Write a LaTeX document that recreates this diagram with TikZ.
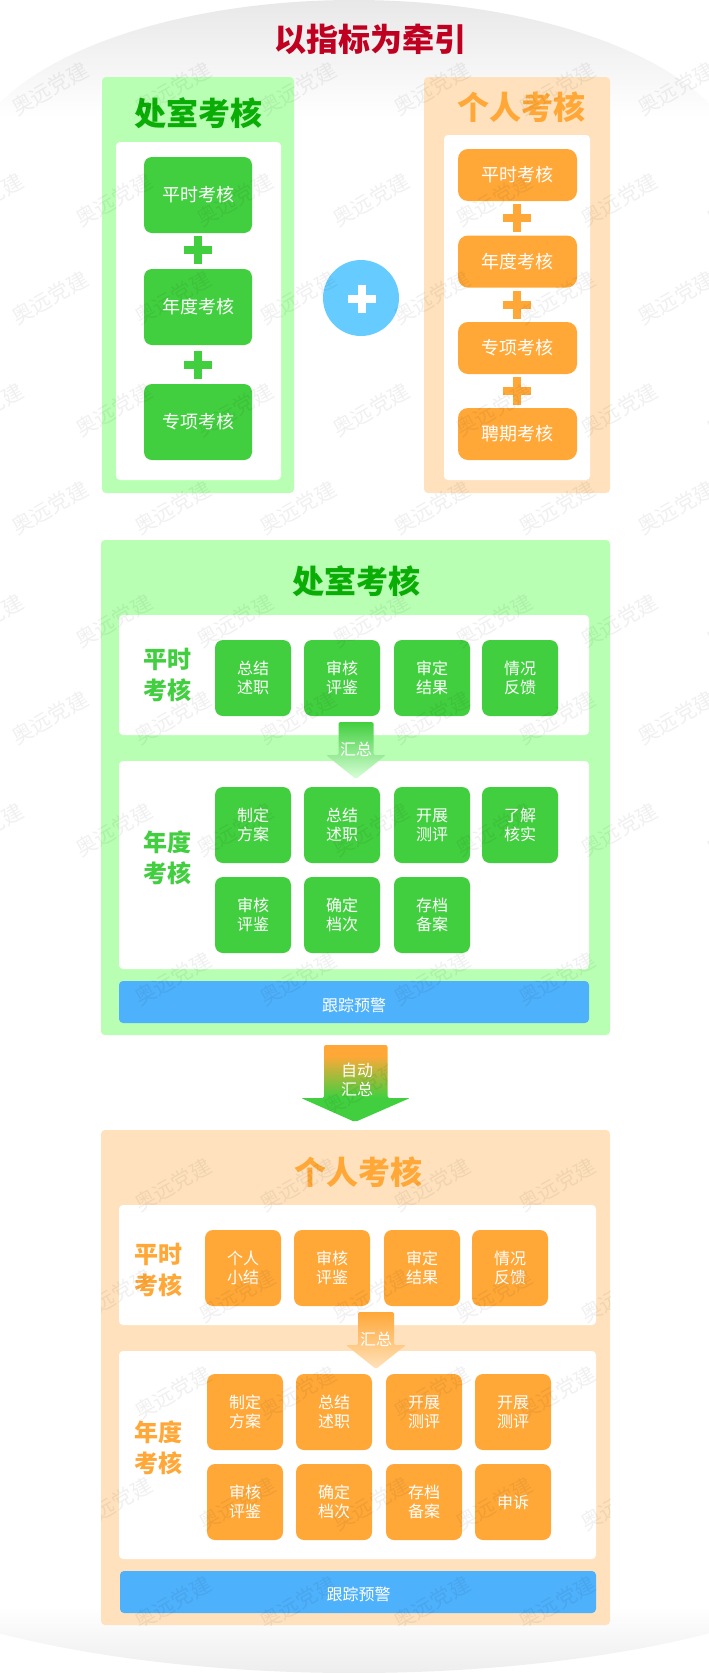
\documentclass[tikz,border=0pt]{standalone}
\usepackage{fontspec}
\setmainfont{Noto Sans CJK SC}
\definecolor{boxgreen}{HTML}{42CF3F}
\definecolor{panelgreen}{HTML}{B8FFB3}
\definecolor{titlegreen}{HTML}{0AAD05}
\definecolor{boxorange}{HTML}{FFA838}
\definecolor{panelorange}{HTML}{FFE2BD}
\definecolor{barblue}{HTML}{4EB1FC}
\definecolor{plusblue}{HTML}{66CCFF}
\definecolor{titlered}{HTML}{C00020}
\pgfdeclareverticalshading{bigfade}{100bp}{color(0bp)=(boxgreen); color(41bp)=(boxgreen); color(68bp)=(boxorange); color(100bp)=(boxorange)}
\tikzset{
  cellbox/.style={rounded corners=8pt, minimum width=76pt, minimum height=76pt, inner sep=0pt,
    text=white, align=center, font=\fontsize{16}{19}\selectfont},
  greencell/.style={cellbox, fill=boxgreen},
  orangecell/.style={cellbox, fill=boxorange},
  bigtitle/.style={font=\fontsize{32}{36}\selectfont\bfseries, inner sep=0pt},
  sidelabel/.style={font=\fontsize{24}{31}\selectfont\bfseries, align=center, inner sep=0pt},
  bartext/.style={text=white, font=\fontsize{16}{19}\selectfont, align=center, inner sep=0pt},
  wmark/.style={rotate=30, text=black, opacity=.06, font=\fontsize{21}{22}\selectfont, inner sep=0pt}
}
\begin{document}
\begin{tikzpicture}[x=1pt,y=-1pt]
  \useasboundingbox (0,0) rectangle (709,1673);
  % grey caps, top and bottom
  \begin{scope}
    \clip (354,175) ellipse [x radius=389, y radius=175];
    \shade[top color=black!9, bottom color=white] (-40,0) rectangle (749,118);
  \end{scope}
  \begin{scope}
    \clip (354,1498) ellipse [x radius=560, y radius=175];
    \shade[top color=white, bottom color=black!7] (0,1607) rectangle (709,1673);
  \end{scope}

  \node[bigtitle, text=titlered] (maintitle) at (370,39) {以指标为牵引};

  % first row of panels
  \fill[panelgreen, rounded corners=4pt] (102,77) rectangle (294,493);
  \fill[white, rounded corners=4pt] (116,142) rectangle (281,480);
  \node[bigtitle, text=titlegreen] (deptlabel) at (198,113) {处室考核};
  \foreach \y/\t [count=\i] in {195/平时考核,307/年度考核,422/专项考核}{
    \node[greencell, minimum width=108pt, font=\fontsize{18}{20}\selectfont] (dept\i) at (198,\y) {\raisebox{-1pt}{\t}};
  }
  \foreach \y in {250,365}{
    \draw[boxgreen, line width=7.5pt] (184,\y) -- (212,\y);
    \draw[boxgreen, line width=7.5pt] (198,{\y-14}) -- (198,{\y+14});
  }

  \fill[panelorange, rounded corners=4pt] (424,77) rectangle (610,493);
  \fill[white, rounded corners=4pt] (444,135) rectangle (590,480);
  \node[bigtitle, text=boxorange] (selflabel) at (521,107) {个人考核};
  \foreach \y/\t [count=\i] in {175/平时考核,261.5/年度考核,348/专项考核,434/聘期考核}{
    \node[orangecell, minimum width=119pt, minimum height=52pt, rounded corners=10pt,
      font=\fontsize{18}{20}\selectfont] (self\i) at (517.5,\y) {\raisebox{-1pt}{\t}};
  }
  \foreach \y in {218,305,391}{
    \draw[boxorange, line width=7.5pt] (503,\y) -- (531,\y);
    \draw[boxorange, line width=7.5pt] (517,{\y-14}) -- (517,{\y+14});
  }

  \node[circle, fill=plusblue, minimum size=76pt, inner sep=0pt] (plusdot) at (361,298) {};
  \draw[white, line width=7.5pt] (348,299) -- (376,299);
  \draw[white, line width=7.5pt] (362,285) -- (362,313);

  % green panel
  \fill[panelgreen, rounded corners=4pt] (101,540) rectangle (610,1035);
  \fill[white, rounded corners=4pt] (119,615) rectangle (589,735);
  \fill[white, rounded corners=4pt] (119,761) rectangle (589,969);
  \node[bigtitle, text=titlegreen] (depttitle) at (356,581) {处室考核};
  \node[sidelabel, text=boxgreen] (deptdaily) at (167,675) {平时\\考核};
  \node[sidelabel, text=boxgreen] (deptyear) at (167,858) {年度\\考核};
  \foreach \x/\y/\t [count=\i] in {253/678/总结\\述职,342/678/审核\\评鉴,432/678/审定\\结果,520/678/情况\\反馈,
      253/825/制定\\方案,342/825/总结\\述职,432/825/开展\\测评,520/825/了解\\核实,
      253/915/审核\\评鉴,342/915/确定\\档次,432/915/存档\\备案}{
    \node[greencell] (g\i) at (\x,\y) {\t};
  }
  \shade[top color=boxgreen, bottom color=green!15!white, rounded corners=1.5pt]
    (338.5,722) -- (373.5,722) -- (373.5,755) -- (386,755) -- (356,779) -- (326,755) -- (338.5,755) -- cycle;
  \node[bartext] (gsum) at (356,749) {汇总};
  \fill[barblue, rounded corners=4pt] (119,981) rectangle (589,1023);
  \node[bartext] (gtrack) at (354,1005) {跟踪预警};

  % big arrow between the panels
  \begin{scope}
    \path[clip, rounded corners=2pt] (324,1045) -- (387.5,1045) -- (387.5,1098) -- (410,1098) -- (355,1122) -- (301,1098) -- (324,1098) -- cycle;
    \shade[shading=bigfade] (301,1045) rectangle (410,1122);
    \node[wmark] (wf) at (362,1089) {奥远党建};
  \end{scope}
  \node[bartext] (autosum) at (357,1080) {自动\\汇总};

  % orange panel
  \fill[panelorange, rounded corners=4pt] (101,1130) rectangle (610,1625);
  \fill[white, rounded corners=4pt] (119,1205) rectangle (596,1325);
  \fill[white, rounded corners=4pt] (119,1351) rectangle (596,1559);
  \node[bigtitle, text=boxorange] (selftitle) at (358.5,1172) {个人考核};
  \node[sidelabel, text=boxorange] (selfdaily) at (158,1270) {平时\\考核};
  \node[sidelabel, text=boxorange] (selfyear) at (158,1448) {年度\\考核};
  \foreach \x/\y/\t [count=\i] in {243/1268/个人\\小结,332/1268/审核\\评鉴,422/1268/审定\\结果,510/1268/情况\\反馈,
      245/1412/制定\\方案,334/1412/总结\\述职,424/1412/开展\\测评,513/1412/开展\\测评,
      245/1502/审核\\评鉴,334/1502/确定\\档次,424/1502/存档\\备案,513/1502/申诉}{
    \node[orangecell] (o\i) at (\x,\y) {\t};
  }
  \shade[top color=boxorange, bottom color=panelorange, rounded corners=1.5pt]
    (358,1312) -- (394,1312) -- (394,1345) -- (406,1345) -- (376,1369) -- (346,1345) -- (358,1345) -- cycle;
  \node[bartext] (osum) at (376,1339) {汇总};
  \fill[barblue, rounded corners=4pt] (120,1571) rectangle (596,1613);
  \node[bartext] (otrack) at (358.5,1594) {跟踪预警};

  % watermark
  \begin{scope}
    \clip (0,0) rectangle (709,1035);
    \foreach \y in {89,298,508,718}
      \foreach \x in {50,173,298,432,557,676}
        \node[wmark] (wa\x-\y) at (\x,\y) {奥远党建};
    \foreach \y in {200,410,621,830}
      \foreach \x in {-15,114,235,371,494,619,745}
        \node[wmark] (wb\x-\y) at (\x,\y) {奥远党建};
    \foreach \x in {173,298,432,557}
      \node[wmark] (wc\x) at (\x,979) {奥远党建};
  \end{scope}
  \begin{scope}
    \clip (101,1130) rectangle (610,1625);
    \foreach \y in {1185,1393,1603}
      \foreach \x in {173,298,432,557}
        \node[wmark] (wd\x-\y) at (\x,\y) {奥远党建};
    \foreach \y in {1296,1504}
      \foreach \x in {114,237,371,494,619}
        \node[wmark] (we\x-\y) at (\x,\y) {奥远党建};
  \end{scope}
\end{tikzpicture}
\end{document}
